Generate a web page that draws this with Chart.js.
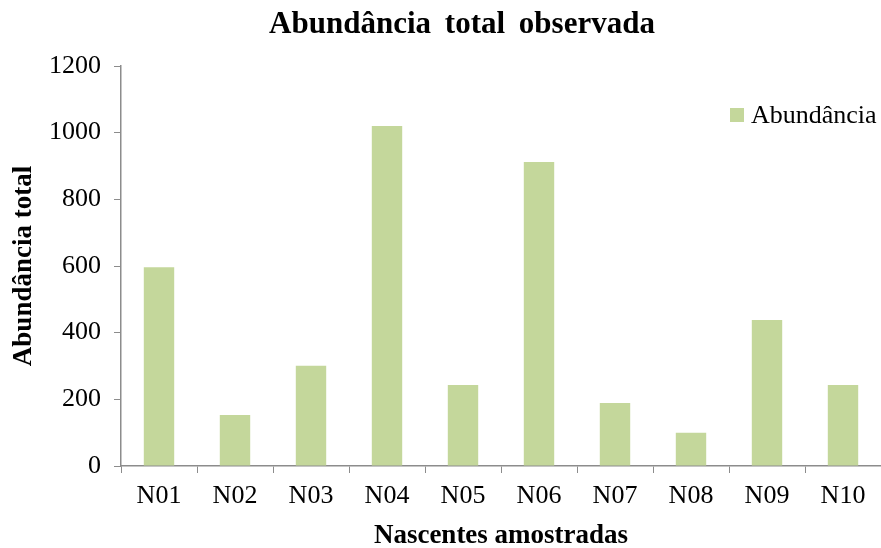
<!DOCTYPE html>
<html>
<head>
<meta charset="utf-8">
<script src="https://cdn.jsdelivr.net/npm/chart.js@4/dist/chart.umd.min.js"></script>
<style>
  html, body { margin: 0; padding: 0; background: #fff; }
  #wrap { width: 881px; height: 548px; }
</style>
</head>
<body>
<div id="wrap"><canvas id="chart" width="881" height="548"></canvas></div>
<script>
  const categories = ["N01", "N02", "N03", "N04", "N05", "N06", "N07", "N08", "N09", "N10"];
  const abundancia = [596, 153, 301, 1020, 243, 912, 189, 100, 438, 243];
  const yTicks = [0, 200, 400, 600, 800, 1000, 1200];
  const chartTitle = "Abundância total observada";

  const SERIF = "'Liberation Serif', 'Times New Roman', serif";
  const BAR_COLOR = "#c4d79b";
  const AXIS_COLOR = "#8c8c8c";

  // title sits a bit right of the canvas centre in the original, with wide word gaps
  const offsetTitle = {
    id: "offsetTitle",
    afterDraw(chart) {
      const ctx = chart.ctx;
      ctx.save();
      ctx.fillStyle = "#000";
      ctx.font = "bold 31px " + SERIF;
      if ("wordSpacing" in ctx) ctx.wordSpacing = "6px";
      ctx.textAlign = "center";
      ctx.textBaseline = "middle";
      ctx.fillText(chartTitle, 462, 25);
      ctx.restore();
    }
  };

  // legend drawn inside the plot, top right, like the original
  const insideLegend = {
    id: "insideLegend",
    afterDraw(chart) {
      const ctx = chart.ctx;
      const ds = chart.data.datasets[0];
      ctx.save();
      ctx.fillStyle = ds.backgroundColor;
      ctx.fillRect(730, 108, 14, 14);
      ctx.fillStyle = "#000";
      ctx.font = "26px " + SERIF;
      ctx.textBaseline = "middle";
      ctx.textAlign = "left";
      ctx.fillText(ds.label, 751, 116);
      ctx.restore();
    }
  };

  new Chart(document.getElementById("chart"), {
    type: "bar",
    data: {
      labels: categories,
      datasets: [{
        label: "Abundância",
        data: abundancia,
        backgroundColor: BAR_COLOR,
        borderWidth: 0,
        categoryPercentage: 1,
        barPercentage: 0.4
      }]
    },
    options: {
      responsive: false,
      animation: false,
      layout: { padding: { top: 66, left: 0, right: 0, bottom: 0 } },
      plugins: {
        legend: { display: false },
        tooltip: { enabled: false },
        title: { display: false }
      },
      scales: {
        x: {
          grid: { display: true, drawOnChartArea: false, offset: true, tickLength: 7, color: AXIS_COLOR },
          border: { display: true, color: AXIS_COLOR, width: 1.5 },
          ticks: { color: "#000", font: { family: SERIF, size: 26 }, padding: 8, maxRotation: 0 },
          title: {
            display: true,
            text: "Nascentes amostradas",
            color: "#000",
            font: { family: SERIF, size: 27, weight: "bold", lineHeight: 1 },
            padding: { top: 0, bottom: -2 }
          },
          afterFit(scale) { scale.height = 82; }
        },
        y: {
          min: 0,
          max: 1200,
          afterBuildTicks(scale) { scale.ticks = yTicks.map(v => ({ value: v })); },
          grid: { display: true, drawOnChartArea: false, tickLength: 7, color: AXIS_COLOR },
          border: { display: true, color: AXIS_COLOR, width: 1.5 },
          ticks: { color: "#000", font: { family: SERIF, size: 26 }, padding: 13, callback: v => String(v) },
          title: {
            display: true,
            text: "Abundância total",
            color: "#000",
            font: { family: SERIF, size: 27, weight: "bold", lineHeight: 1 },
            padding: { top: 11, bottom: 0 }
          },
          afterFit(scale) { scale.width = 121; }
        }
      }
    },
    plugins: [offsetTitle, insideLegend]
  });
</script>
</body>
</html>
